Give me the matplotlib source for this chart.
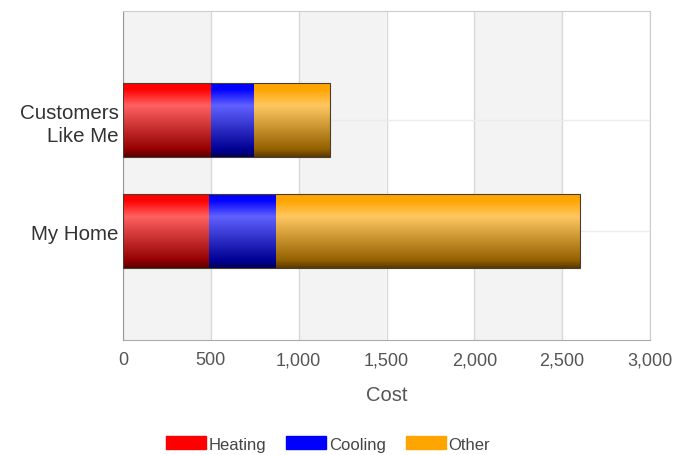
import numpy as np
import matplotlib
matplotlib.use("Agg")
import matplotlib.pyplot as plt
from matplotlib.colors import to_rgb
from matplotlib.patches import Patch

plt.rcParams['font.family'] = ['Liberation Sans', 'DejaVu Sans']

categories = ["My Home", "Customers\nLike Me"]
series_names = ["Heating", "Cooling", "Other"]
heating = [490, 500]
cooling = [380, 245]
other = [1730, 435]
colors = ["#ff0000", "#0000ff", "#ffa500"]
xticks = [0, 500, 1000, 1500, 2000, 2500, 3000]
xtick_labels = ["0", "500", "1,000", "1,500", "2,000", "2,500", "3,000"]

fig = plt.figure(figsize=(6.75, 4.56), dpi=100)
ax = fig.add_axes([123/675, 1 - 341/456, (650-123)/675, (341-12)/456])

# alternating bands
for i in range(0, len(xticks) - 1, 2):
    ax.axvspan(xticks[i], xticks[i + 1], color="#f3f3f3", zorder=0, lw=0)

ax.set_xlim(xticks[0], xticks[-1])
ax.set_ylim(-0.98, 1.98)
ax.set_xticks(xticks)
ax.set_xticklabels(xtick_labels)
ax.set_yticks(range(len(categories)))
ax.set_yticklabels(categories, linespacing=1.3)
ax.grid(True, axis="x", color="#d9d9d9", lw=1, zorder=0.5)
ax.grid(True, axis="y", color="#ececec", lw=1, zorder=0.5)
ax.set_axisbelow(True)
ax.tick_params(axis="x", length=0, pad=8)
ax.tick_params(axis="y", length=0, pad=3)
for lab in ax.get_xticklabels():
    lab.set_fontsize(13)
    lab.set_color("#555555")
for lab in ax.get_yticklabels():
    lab.set_fontsize(14.8)
    lab.set_color("#333333")
ax.set_xlabel("Cost", fontsize=14.5, color="#555555", labelpad=12)
for s in ["top", "right"]:
    ax.spines[s].set_color("#cccccc")
ax.spines["bottom"].set_color("#aaaaaa")
ax.spines["left"].set_color("#999999")


def grad_colors(c, n=100):
    base = np.array(to_rgb(c))
    white = np.ones(3)
    stops_t = [0.0, 0.08, 0.3, 0.9, 1.0]
    stops_c = [base, base, base * 0.62 + white * 0.38, base * 0.58, base * 0.35]
    t = np.linspace(0, 1, n)
    out = np.zeros((n, 3))
    for k in range(3):
        out[:, k] = np.interp(t, stops_t, [s[k] for s in stops_c])
    return out


h = 0.66
y = np.arange(len(categories))
left = np.zeros(len(categories))
for vals, c in zip([heating, cooling, other], colors):
    bars = ax.barh(y, vals, left=left, height=h, color=c, edgecolor="none", zorder=2)
    g = grad_colors(c)[:, None, :]
    for b in bars:
        x0, y0 = b.get_x(), b.get_y()
        w, hh = b.get_width(), b.get_height()
        im = ax.imshow(g, extent=[x0, x0 + w, y0, y0 + hh], aspect="auto",
                       origin="upper", zorder=3, interpolation="bilinear")
        im.set_clip_path(b)
    left = left + np.array(vals)

# thin dark outline on whole stacked bars
totals = np.array(heating) + np.array(cooling) + np.array(other)
ax.barh(y, totals, height=h, fill=False, edgecolor="#4a3e30", lw=0.8, zorder=4)
ax.set_xlim(xticks[0], xticks[-1])
ax.set_ylim(-0.98, 1.98)

handles = [Patch(facecolor=c, edgecolor=c) for c in colors]
fig.legend(handles, series_names, loc="center", bbox_to_anchor=(328/675, 1 - 445/456),
           ncol=3, frameon=False, fontsize=12, handlelength=2.4, handleheight=0.8,
           handletextpad=0.15, columnspacing=1.2, labelcolor="#444444")

fig.savefig("out.png", dpi=100)
